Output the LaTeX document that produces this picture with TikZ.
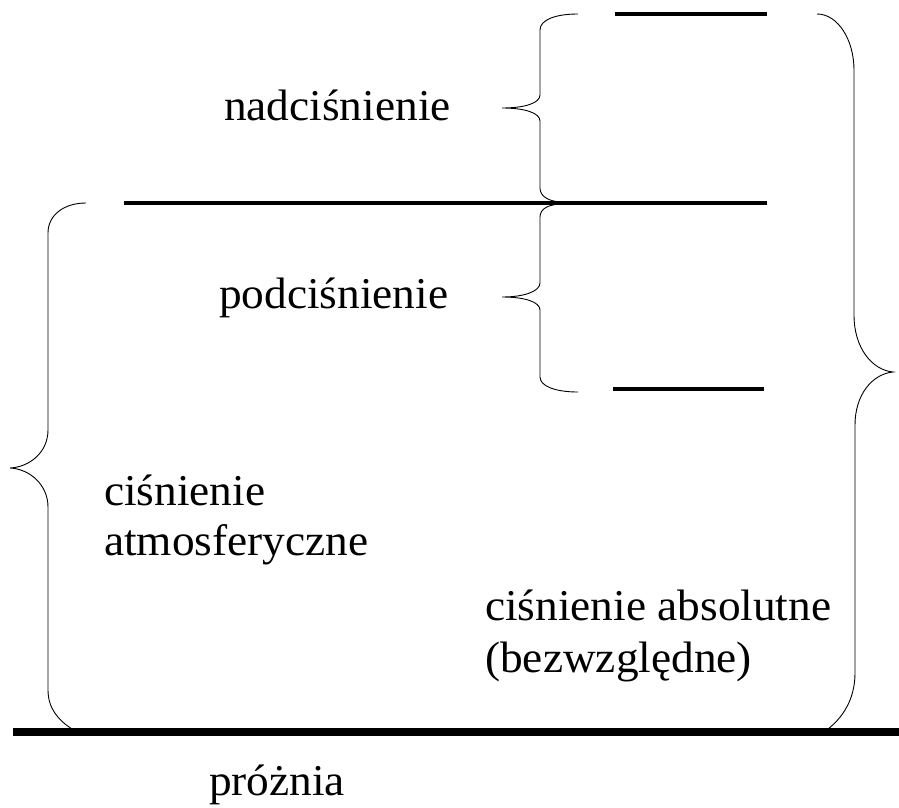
\documentclass[tikz,border=0pt]{standalone}
\usepackage{fontspec}
\setmainfont{Liberation Serif}[FakeStretch=1.03]
\begin{document}
\begin{tikzpicture}[x=1pt,y=-1pt,
  lbl/.style={anchor=base west, inner sep=0pt, font=\fontsize{44}{50}\selectfont},
  level/.style={line width=3.8pt},
  floor/.style={line width=8pt},
  brace/.style={line width=0.9pt}]
\useasboundingbox (0,0) rectangle (899,808);
% pressure levels
\draw[level] (615,14) -- (767,14);
\draw[level] (124,203) -- (767,203);
\draw[level] (613,389) -- (764,389);
\draw[floor] (13,732) -- (899,732);
% brace: nadcisnienie
\draw[brace] (578,14) .. controls (555,14) and (540,20) .. (540,30) -- (540,95)
  .. controls (540,103) and (525,108) .. (502,108)
  .. controls (525,108) and (540,113) .. (540,121) -- (540,188)
  .. controls (540,197) and (550,202) .. (563,202);
% brace: podcisnienie
\draw[brace] (563,204) .. controls (550,204) and (540,208) .. (540,217) -- (540,283)
  .. controls (540,291) and (525,297) .. (502,297)
  .. controls (525,297) and (540,302) .. (540,310) -- (540,377)
  .. controls (540,386) and (555,392) .. (578,392);
% brace: cisnienie absolutne (right)
\draw[brace] (817,14) .. controls (838,14) and (854,40) .. (854,70) -- (854,315)
  .. controls (854,348) and (872,370) .. (893,372)
  .. controls (872,374) and (855,395) .. (855,425) -- (855,673)
  .. controls (855,700) and (842,718) .. (828,729);
% brace: cisnienie atmosferyczne (left)
\draw[brace] (86,203) .. controls (64,203) and (48,215) .. (48,233) -- (48,430)
  .. controls (48,452) and (30,467) .. (10,468)
  .. controls (30,469) and (48,485) .. (48,507) -- (48,690)
  .. controls (48,708) and (58,720) .. (72,729);
% labels
\node[lbl] (nad) at (224,120) {nadciśnienie};
\node[lbl] (pod) at (219,308) {podciśnienie};
\node[lbl] (atm1) at (104,505) {ciśnienie};
\node[lbl] (atm2) at (104,555) {atmosferyczne};
\node[lbl] (abs1) at (485,620) {ciśnienie absolutne};
\node[lbl] (abs2) at (485,672) {(bezwzględne)};
\node[lbl] (vac) at (209,795) {próżnia};
\end{tikzpicture}
\end{document}
